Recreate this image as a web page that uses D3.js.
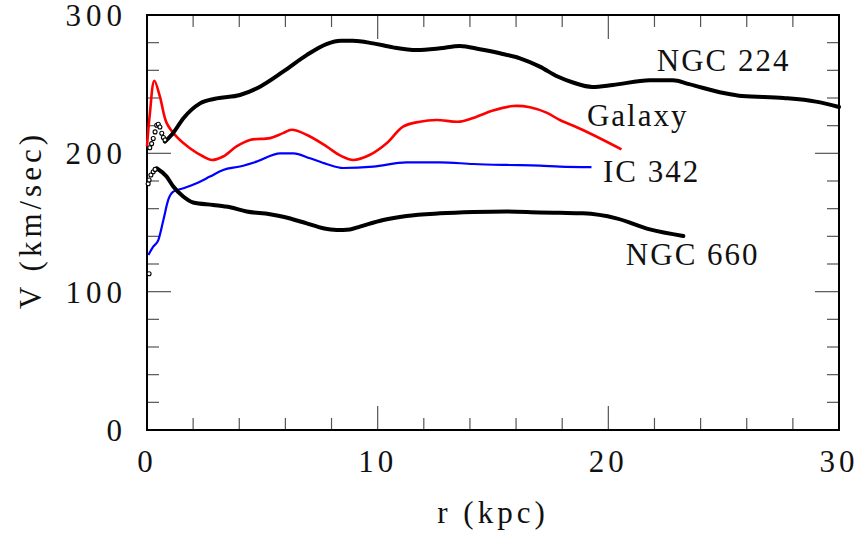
<!DOCTYPE html>
<html>
<head>
<meta charset="utf-8">
<script src="https://cdn.jsdelivr.net/npm/d3@7"></script>
<style>
  html, body { margin: 0; padding: 0; background: #fff; }
  svg text { font-family: "Liberation Serif", "DejaVu Serif", serif; fill: #111; }
</style>
</head>
<body>
<svg id="chart" width="861" height="535"></svg>
<script>
// ---------------- data ----------------
const ngc224R = [0.78, 1.1, 1.58, 2.3, 3.02, 4.03, 4.9, 5.9, 6.92, 7.78, 8.4, 8.93, 9.8, 10.67, 11.69, 12.7, 13.57, 14.43, 15.3, 16.17, 17.03, 17.8, 18.5, 19.3, 20.2, 21.8, 22.8, 23.5, 25, 25.8, 27.6, 29, 30];
const ngc224V = [208.5, 214, 225.4, 236.1, 239.7, 242.2, 248.2, 259, 271, 279, 281.4, 281.4, 279.5, 276.6, 274.7, 275.9, 277.6, 275.2, 272.3, 268.7, 262.7, 255.5, 251, 248, 249.4, 252.8, 252.8, 250, 243.6, 241.4, 240, 237.4, 233.5];
const ngc224InnerR = [0.12, 0.2, 0.27, 0.35, 0.42, 0.49, 0.56, 0.64, 0.71, 0.78];
const ngc224InnerV = [204, 207, 210.7, 215.5, 220.3, 221, 219, 214.5, 211.5, 209.6];

const galaxyR = [0, 0.12, 0.32, 0.56, 0.85, 1.28, 1.86, 2.44, 2.8, 3.3, 3.88, 4.46, 5.33, 5.9, 6.27, 6.92, 7.78, 8.37, 8.94, 9.67, 10.39, 11.1, 11.83, 12.56, 13.57, 14.29, 15.0, 15.88, 16.6, 17.32, 17.9, 18.9, 20.57];
const galaxyV = [205, 228, 252.5, 241, 222, 212, 203.7, 197.7, 195.2, 197.7, 205, 209.7, 211, 214.6, 217, 213.4, 205, 198.5, 195.2, 199, 207.3, 219.3, 222.9, 224.1, 222.9, 226.5, 230.9, 234.2, 233.3, 229.4, 224.1, 216.9, 202.9];

const ic342R = [0.06, 0.27, 0.49, 0.71, 0.92, 1.14, 1.57, 2.15, 2.73, 3.3, 4.03, 4.75, 5.77, 6.35, 7.07, 7.78, 8.5, 9.81, 11.25, 12.7, 14.15, 15.6, 17.03, 17.9, 19.27];
const ic342V = [126.5, 132.5, 137.3, 151.8, 166.3, 172.3, 174.7, 178.4, 183.2, 188, 190.5, 194, 200, 200, 196.4, 192.3, 189.4, 190.4, 193.5, 193.5, 192.3, 191.6, 191.1, 190.4, 190];

const ngc660R = [0.42, 0.85, 1.14, 1.57, 2.0, 2.87, 3.6, 4.32, 5.33, 5.9, 6.92, 7.64, 8.22, 8.8, 9.23, 10.24, 11.25, 12.7, 14.15, 15.6, 17.03, 17.9, 18.9, 20.35, 21.8, 23.25];
const ngc660V = [189.2, 183.2, 176, 168.8, 164.5, 162.7, 161, 158, 156, 154.2, 149.4, 145.8, 144.6, 145, 147, 151.8, 154.7, 156.6, 157.6, 158, 157.3, 157, 156.6, 153, 145, 140.2];
const ngc660InnerR = [0.09, 0.05, 0.09, 0.17, 0.27, 0.35];
const ngc660InnerV = [113, 178, 180.7, 184.3, 186.7, 188.4];

const seriesNames = ["NGC 224", "Galaxy", "IC 342", "NGC 660"];
const labelR = [22.1, 19.07, 19.77, 20.76];   // label left edge in kpc
const labelV = [259.7, 219.8, 179.3, 119.3];  // label baseline in km/s

const xTicksMajor = [0, 10, 20, 30];
const yTicksMajor = [0, 100, 200, 300];
const xLabel = "r (kpc)";
const yLabel = "V (km/sec)";

// ---------------- layout ----------------
const svg = d3.select("#chart");
const L = 147, R = 839, T = 15, B = 430;
const x = d3.scaleLinear().domain([0, 30]).range([L, R]);
const y = d3.scaleLinear().domain([0, 300]).range([B, T]);

const zip = (a, b) => a.map((d, i) => [d, b[i]]);
const line = d3.line().x(d => x(d[0])).y(d => y(d[1])).curve(d3.curveMonotoneX);
const lineC = d3.line().x(d => x(d[0])).y(d => y(d[1])).curve(d3.curveCatmullRom.alpha(0.5));

// ticks
const xMinor = d3.range(0, 30.001, 2);
const yMinor = d3.range(0, 300.001, 20);
const tg = svg.append("g").attr("stroke", "#555").attr("stroke-width", 1.2);
xMinor.forEach(v => {
  const len = (v % 10 === 0) ? 24 : 12;
  tg.append("line").attr("x1", x(v)).attr("x2", x(v)).attr("y1", B).attr("y2", B - len);
  tg.append("line").attr("x1", x(v)).attr("x2", x(v)).attr("y1", T).attr("y2", T + len);
});
yMinor.forEach(v => {
  const len = (v % 100 === 0) ? 24 : 12;
  tg.append("line").attr("y1", y(v)).attr("y2", y(v)).attr("x1", L).attr("x2", L + len);
  tg.append("line").attr("y1", y(v)).attr("y2", y(v)).attr("x1", R).attr("x2", R - len);
});

// frame
svg.append("rect").attr("x", L).attr("y", T).attr("width", R - L).attr("height", B - T)
  .attr("fill", "none").attr("stroke", "#000").attr("stroke-width", 2);

// tick labels
const fs = 31;
svg.append("g").selectAll("text").data(xTicksMajor).join("text")
  .attr("x", d => x(d)).attr("y", 472).attr("text-anchor", "middle")
  .attr("font-size", fs).attr("letter-spacing", 4).text(d => d);
svg.append("g").selectAll("text").data(yTicksMajor).join("text")
  .attr("x", 127).attr("y", d => y(d) + 11).attr("text-anchor", "end")
  .attr("font-size", fs).attr("letter-spacing", 5).text(d => d);

// axis labels
svg.append("text").attr("x", 493).attr("y", 523).attr("text-anchor", "middle")
  .attr("font-size", fs).attr("letter-spacing", 4).text(xLabel);
svg.append("text").attr("transform", "translate(41,220) rotate(-90)").attr("text-anchor", "middle")
  .attr("font-size", fs).attr("letter-spacing", 4).text(yLabel);

// curves
svg.append("path").datum(zip(ic342R, ic342V)).attr("d", line)
  .attr("fill", "none").attr("stroke", "#0000ff").attr("stroke-width", 2.2);
svg.append("path").datum(zip(galaxyR, galaxyV)).attr("d", lineC)
  .attr("fill", "none").attr("stroke", "#ff0000").attr("stroke-width", 2.6);
svg.append("path").datum(zip(ngc660R, ngc660V)).attr("d", line)
  .attr("fill", "none").attr("stroke", "#000").attr("stroke-width", 4).attr("stroke-linecap", "round");
svg.append("path").datum(zip(ngc224R, ngc224V)).attr("d", line)
  .attr("fill", "none").attr("stroke", "#000").attr("stroke-width", 4).attr("stroke-linecap", "round");

// inner open-circle markers
const dots = zip(ngc224InnerR, ngc224InnerV).concat(zip(ngc660InnerR, ngc660InnerV));
svg.append("g").selectAll("circle").data(dots).join("circle")
  .attr("cx", d => x(d[0])).attr("cy", d => y(d[1])).attr("r", 2)
  .attr("fill", "#fff").attr("stroke", "#000").attr("stroke-width", 1.1);

// series labels
svg.append("g").selectAll("text").data(seriesNames).join("text")
  .attr("x", (d, i) => x(labelR[i])).attr("y", (d, i) => y(labelV[i]))
  .attr("font-size", fs).attr("letter-spacing", 2).text(d => d);
</script>
</body>
</html>
